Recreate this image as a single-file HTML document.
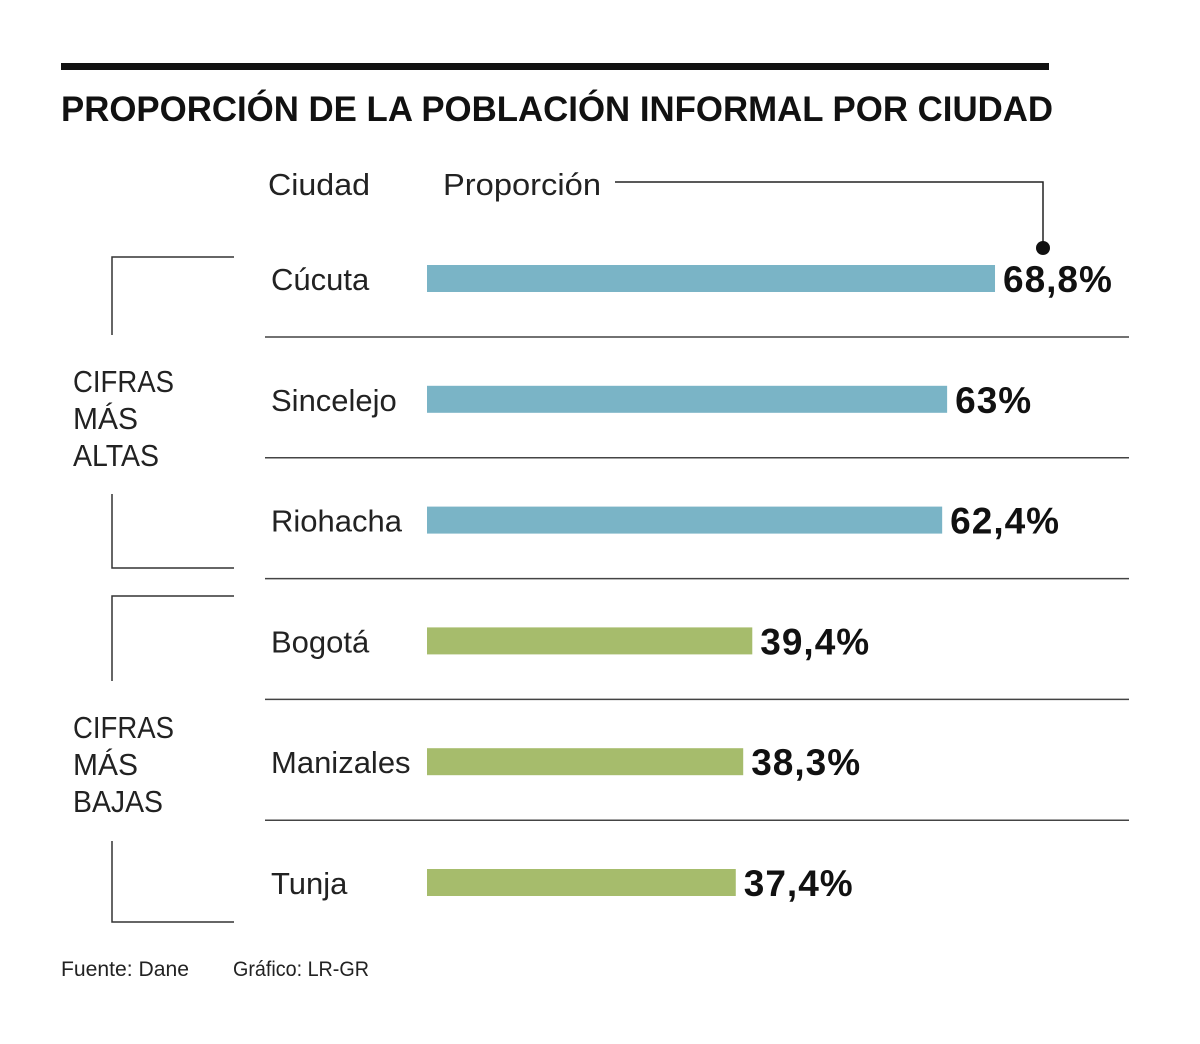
<!DOCTYPE html>
<html><head><meta charset="utf-8">
<style>
html,body{margin:0;padding:0;background:#fff;}
body{width:1200px;height:1039px;overflow:hidden;font-family:"Liberation Sans",sans-serif;}
svg text{font-family:"Liberation Sans",sans-serif;}
</style></head>
<body>
<svg id="chart" width="1200" height="1039" viewBox="0 0 1200 1039" xmlns="http://www.w3.org/2000/svg">
  <rect x="61" y="63" width="988" height="7" fill="#111"/>
  <text x="61" y="121" font-size="35" font-weight="bold" fill="#111" textLength="992" lengthAdjust="spacingAndGlyphs">PROPORCIÓN DE LA POBLACIÓN INFORMAL POR CIUDAD</text>
  <text x="268" y="195" font-size="31" fill="#222" textLength="102" lengthAdjust="spacingAndGlyphs">Ciudad</text>
  <text x="443" y="195" font-size="31" fill="#222" textLength="158" lengthAdjust="spacingAndGlyphs">Proporción</text>
  <path d="M615 182 H1043 V248" fill="none" stroke="#222" stroke-width="1.5"/>
  <circle cx="1043" cy="248" r="7" fill="#111"/>
  <g id="groups" stroke="#333" stroke-width="1.5" fill="none">
    <path d="M234 257 H112 V335"/>
    <path d="M112 494 V568 H234"/>
    <path d="M234 596 H112 V681"/>
    <path d="M112 841 V922 H234"/>
  </g>
  <text font-size="31" fill="#222"><tspan x="73" y="392" textLength="101" lengthAdjust="spacingAndGlyphs">CIFRAS</tspan><tspan x="73" y="429" textLength="65" lengthAdjust="spacingAndGlyphs">MÁS</tspan><tspan x="73" y="466" textLength="86" lengthAdjust="spacingAndGlyphs">ALTAS</tspan></text>
  <text font-size="31" fill="#222"><tspan x="73" y="738" textLength="101" lengthAdjust="spacingAndGlyphs">CIFRAS</tspan><tspan x="73" y="775" textLength="65" lengthAdjust="spacingAndGlyphs">MÁS</tspan><tspan x="73" y="812" textLength="90" lengthAdjust="spacingAndGlyphs">BAJAS</tspan></text>
  <g id="rows"></g>
  <text x="61" y="976" font-size="21" fill="#222" textLength="128" lengthAdjust="spacingAndGlyphs">Fuente: Dane</text>
  <text x="233" y="976" font-size="21" fill="#222" textLength="136" lengthAdjust="spacingAndGlyphs">Gráfico: LR-GR</text>
</svg>
<script>
const cities = ["Cúcuta","Sincelejo","Riohacha","Bogotá","Manizales","Tunja"];
const values = [68.8, 63, 62.4, 39.4, 38.3, 37.4];
const valueLabels = ["68,8%","63%","62,4%","39,4%","38,3%","37,4%"];
const groups = ["high","high","high","low","low","low"];

const NS = "http://www.w3.org/2000/svg";
const x0 = 427, pxPer = 8.256;
function xScale(v){ return x0 + v * pxPer; }
function yCenter(i){ return 279 + i * 120.8; }
const g = document.getElementById('rows');
function mk(tag, attrs){ const e = document.createElementNS(NS, tag); for (const k in attrs) e.setAttribute(k, attrs[k]); g.appendChild(e); return e; }
cities.forEach((c, i) => {
  const y = yCenter(i);
  const lab = mk('text', {x: 271, y: y + 11, 'font-size': 31, fill: '#222'});
  
  
  lab.textContent = c;
  const bar = mk('rect', {x: x0, y: y - 14, width: xScale(values[i]) - x0, height: 27, fill: groups[i] === 'high' ? '#7ab4c6' : '#a6bc6c'});
  
  
  const vl = mk('text', {x: xScale(values[i]) + 8, y: y + 13, 'font-size': 37, 'font-weight': 'bold', fill: '#111', 'letter-spacing': 1});
  
  
  vl.textContent = valueLabels[i];
  if (i < cities.length - 1) {
    const ln = mk('line', {x1: 265, x2: 1129, y1: y + 58, y2: y + 58, stroke: '#444', 'stroke-width': 1.5});
    
    
  }
});
</script>
</body></html>
